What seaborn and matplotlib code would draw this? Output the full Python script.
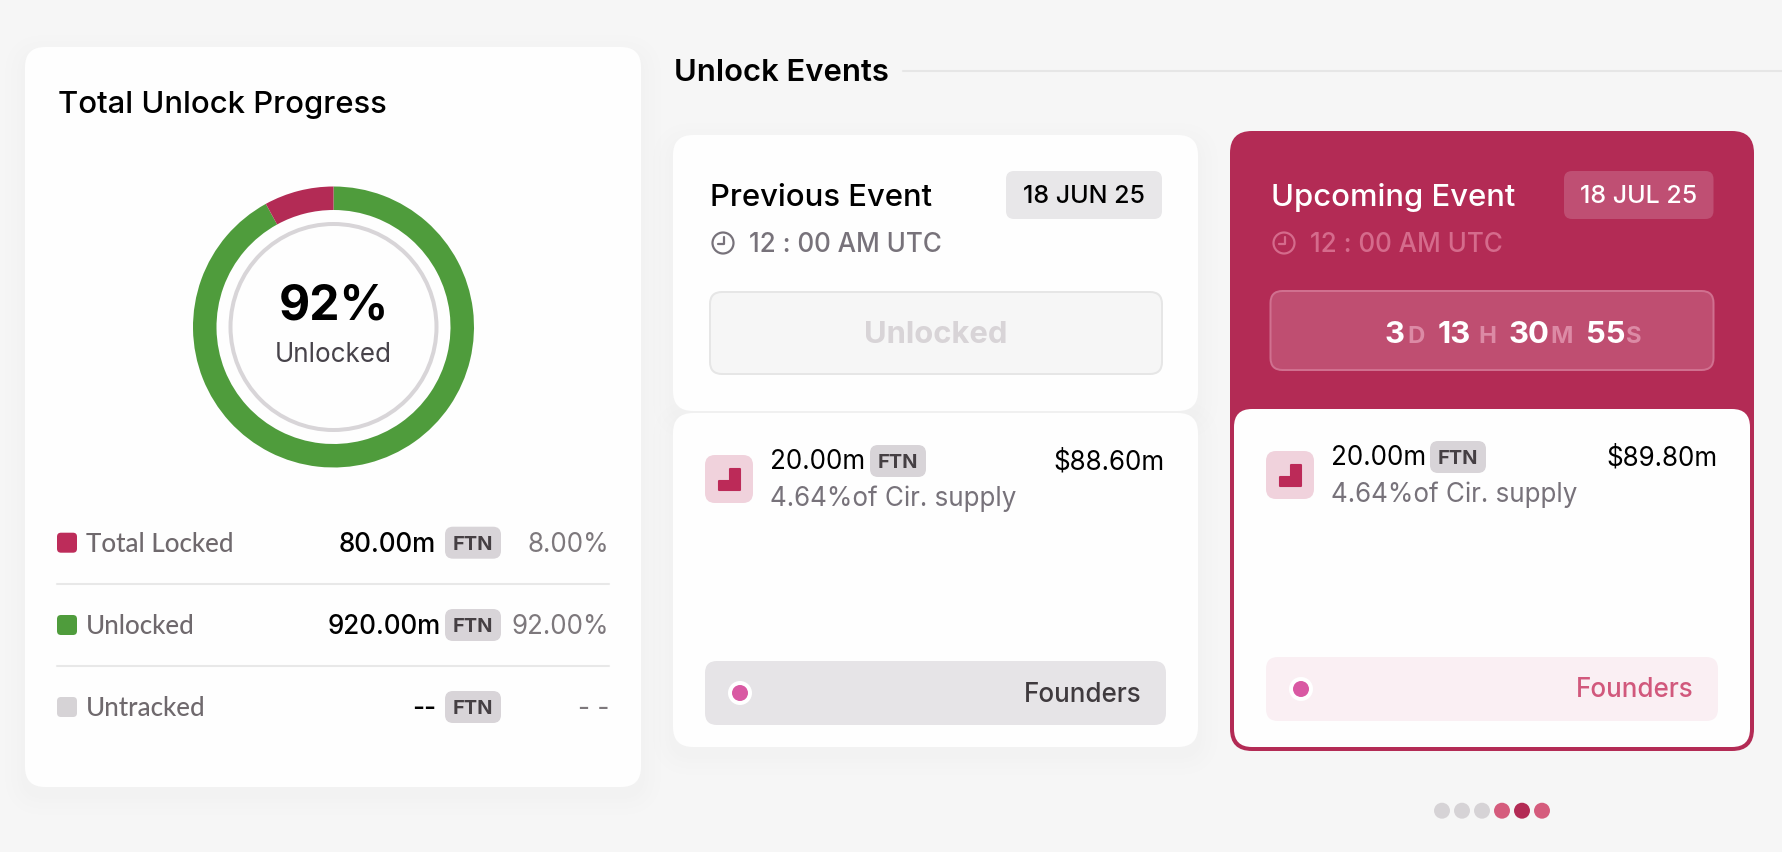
import matplotlib
matplotlib.use("Agg")
import matplotlib.pyplot as plt
from matplotlib.patches import FancyBboxPatch, Circle, Polygon
import pandas as pd
import seaborn as sns

# ── Data ───────────────────────────────────────────────────────────────
ring_names = ["Unlocked", "Total Locked"]
ring_values = [92, 8]
ring_colors = ["#4f9c3c", "#b32b55"]
ring_center_value = "92%"

row_labels = ["Total Locked", "Unlocked", "Untracked"]
row_amounts = ["80.00m", "920.00m", "--"]
row_percents = ["8.00%", "92.00%", "- -"]
row_colors = ["#bd2c5a", "#4f9c3c", "#d6d3d6"]

event_titles = ["Previous Event", "Upcoming Event"]
event_dates = ["18 JUN 25", "18 JUL 25"]
event_time = "12 : 00 AM UTC"
event_amount = "20.00m"
event_usd = ["$88.60m", "$89.80m"]
event_supply = "4.64%of Cir. supply"
event_group = "Founders"
token = "FTN"

countdown_values = ["3", "13", "30", "55"]
countdown_units = ["D", "H", "M", "S"]

pager_states = ["off", "off", "off", "near", "on", "near"]

# ── Colours ────────────────────────────────────────────────────────────
BG = "#f6f6f6"
CRIMSON = "#b32b55"
GREY_TEXT = "#77727a"
PILL = "#d8d4d8"
PINK = "#d959a3"

sns.set_theme(style="white")
plt.rcParams["font.family"] = ["Inter", "DejaVu Sans"]

fig = plt.figure(figsize=(17.82, 8.52), dpi=100, facecolor=BG)
ax = fig.add_axes([0, 0, 1, 1])
ax.set_xlim(0, 1782)
ax.set_ylim(852, 0)
ax.axis("off")


def box(x0, y0, x1, y1, color, r=10, edge="none", lw=0, z=2):
    ax.add_patch(FancyBboxPatch((x0, y0), x1 - x0, y1 - y0,
                                boxstyle=f"round,pad=0,rounding_size={r}",
                                fc=color, ec=edge, lw=lw * 0.72, zorder=z))


def card(x0, y0, x1, y1, r=20):
    # soft shadow under the white cards
    for grow in (20, 14, 8, 4):
        ax.add_patch(FancyBboxPatch((x0 - grow, y0 - grow + 8), x1 - x0 + 2 * grow, y1 - y0 + 2 * grow,
                                    boxstyle=f"round,pad=0,rounding_size={r + grow}",
                                    fc="#000000", ec="none", alpha=0.004, zorder=1))
    box(x0, y0, x1, y1, "#fefefe", r=r)


def text(x, y, s, px, color="black", weight="normal", ha="left", family=None):
    kw = {"family": family} if family else {}
    ax.text(x, y, s, fontsize=px * 0.72, color=color, weight=weight,
            ha=ha, va="baseline", zorder=6, **kw)


def clock(cx, cy, color):
    ax.add_patch(Circle((cx, cy), 10.5, fc="none", ec=color, lw=2.2 * 0.72, zorder=5))
    ax.plot([cx + 1, cx + 1, cx - 5], [cy - 6, cy + 1, cy + 1], color=color, lw=1.6, zorder=5,
            solid_capstyle="round")


def tag(x0, y0, x1, y1):
    box(x0, y0, x1, y1, PILL, r=8, z=4)
    text((x0 + x1) / 2, (y0 + y1) / 2 + 7.2, token, 20, color="#453f43", weight="bold", ha="center")


def corner_icon(x0, y0, color_bg):
    box(x0, y0, x0 + 48, y0 + 48, color_bg, r=10, z=3)
    ix, iy = x0 + 14, y0 + 14
    ax.add_patch(Polygon([(ix + 11, iy), (ix + 21, iy), (ix + 21, iy + 21), (ix, iy + 21),
                          (ix, iy + 12), (ix + 11, iy + 12)],
                         fc="#bc2a58", ec="#bc2a58", lw=1.5, joinstyle="round", zorder=4))


def dot(cx, cy):
    ax.add_patch(Circle((cx, cy), 12, fc="white", ec="none", zorder=4))
    ax.add_patch(Circle((cx, cy), 8, fc=PINK, ec="none", zorder=5))


# ── Left card: progress ring ───────────────────────────────────────────
card(25, 47, 641, 787)
text(58, 113, "Total Unlock Progress", 31, weight="medium")

ring_ax = fig.add_axes([(333.5 - 140.5) / 1782, 1 - (327 + 140.5) / 852, 281 / 1782, 281 / 852], zorder=3)
ring_ax.pie(ring_values, colors=ring_colors, startangle=90, counterclock=False, radius=1,
            wedgeprops={"width": 23.5 / 140.5, "linewidth": 0})
ring_ax.set_xlim(-1, 1)
ring_ax.set_ylim(-1, 1)
ring_ax.patch.set_alpha(0)

ax.add_patch(Circle((333.5, 327), 103, fc="none", ec="#d8d5d8", lw=4 * 0.72, zorder=3))
text(333.5, 320, ring_center_value, 48, weight="bold", ha="center")
text(333.5, 362.5, "Unlocked", 26, color="#47434a", ha="center")

row_base = [551.7, 634, 716]
for i, label in enumerate(row_labels):
    base = row_base[i]
    mid = base - 9
    box(57, mid - 10, 77, mid + 10, row_colors[i], r=4)
    text(86, base, label, 26, color="#6f696d", weight="medium", family="Lato")
    amount_right = 440.5 if len(row_amounts[i]) > 6 else 436
    text(amount_right, base, row_amounts[i], 26, ha="right", weight="medium")
    tag(445, mid - 16, 501, mid + 16)
    text(609, base, row_percents[i], 26, color="#7d787c", ha="right")
    if i < 2:
        ax.plot([57, 609], [base + 32.3, base + 32.3], color="#e8e8e8", lw=1.5, zorder=3)

# ── Header of the events area ──────────────────────────────────────────
text(674, 81, "Unlock Events", 31, weight="semibold")
ax.plot([903, 1782], [70.7, 70.7], color="#e6e6e6", lw=1.5, zorder=1)

# ── Previous event ─────────────────────────────────────────────────────
card(673, 135, 1198, 411)
card(673, 413, 1198, 747)
text(710, 205.7, event_titles[0], 31, weight="medium")
box(1006, 171, 1162, 219, "#e8e7e9", r=8, z=3)
text(1084, 203, event_dates[0], 25, weight="medium", ha="center")
clock(723, 243, GREY_TEXT)
text(749, 251.7, event_time, 26, color=GREY_TEXT, weight="medium")
box(710, 292, 1162, 374, "#f6f6f6", r=12, edge="#e6e6e6", lw=2, z=3)
text(936, 343, "Unlocked", 31, color="#d8d4d7", weight="bold", ha="center")

corner_icon(705, 455, "#f0d2dc")
text(770, 469, event_amount, 26)
tag(870, 445, 926, 477)
text(1164.5, 469, event_usd[0], 26, ha="right")
text(770, 506, event_supply, 26, color=GREY_TEXT)
box(705, 661, 1166, 725, "#e6e4e7", r=12, z=3)
dot(740, 693)
text(1141, 701.7, event_group, 26, color="#3f3a3e", weight="medium", ha="right")

# ── Upcoming event ─────────────────────────────────────────────────────
box(1230, 131, 1754, 751, CRIMSON, r=22)
box(1234, 409, 1750, 747, "#fefefe", r=18, z=3)
text(1271, 206, event_titles[1], 31, color="white", weight="medium")
box(1564, 171, 1713.5, 219, "#bf4f73", r=8, z=3)
text(1638.5, 203.3, event_dates[1], 25, color="white", weight="medium", ha="center")
clock(1284, 243, "#d56b8c")
text(1309.5, 251.7, event_time, 26, color="#d56b8c", weight="medium")
box(1270.5, 291, 1713.5, 370, "#bf4e71", r=12, edge="#d0708f", lw=2, z=3)

value_x = [1384, 1438, 1508.5, 1585.5]
unit_x = [1407, 1478, 1550, 1626]
for i, value in enumerate(countdown_values):
    text(value_x[i], 343, value, 31, color="white", weight="bold")
    text(unit_x[i], 343, countdown_units[i], 24, color="#dc8aa5", weight="bold")

corner_icon(1266, 451, "#f0d2dc")
text(1331, 465.3, event_amount, 26)
tag(1430, 441, 1486, 473)
text(1717.5, 465.3, event_usd[1], 26, ha="right")
text(1331, 502, event_supply, 26, color=GREY_TEXT)
box(1266, 657, 1718, 721, "#faeff3", r=12, z=4)
dot(1301, 689)
text(1694, 697.3, event_group, 26, color="#d1587c", weight="medium", ha="right")

# ── Pager dots ─────────────────────────────────────────────────────────
pager = pd.DataFrame({"pos": [1442 + 20 * i for i in range(len(pager_states))],
                      "y": 810.7, "state": pager_states})
sns.scatterplot(data=pager, x="pos", y="y", hue="state", s=132, linewidth=0, legend=False, ax=ax,
                palette={"off": "#d6d3d6", "near": "#d55c7d", "on": CRIMSON}, zorder=5)
ax.set_xlim(0, 1782)
ax.set_ylim(852, 0)

fig.savefig("out.png", dpi=100, facecolor=BG)
